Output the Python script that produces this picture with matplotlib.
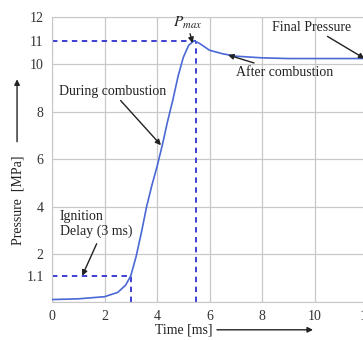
import matplotlib.pyplot as plt
import numpy as np

plt.rcParams['font.family'] = ['Liberation Serif', 'DejaVu Serif']
plt.rcParams['mathtext.fontset'] = 'stix'

# pressure trace
time_ms = [0, 1, 2, 2.5, 2.8, 3.0, 3.2, 3.4, 3.6, 3.8, 4.0, 4.2, 4.4, 4.6, 4.8,
           5.0, 5.2, 5.4, 5.6, 6.0, 6.5, 7.0, 8.0, 9.0, 10.0, 11.0, 12.0]
pressure = [0.1, 0.13, 0.22, 0.4, 0.7, 1.1, 1.9, 2.9, 4.0, 4.9, 5.7, 6.6, 7.6, 8.5, 9.5,
            10.3, 10.8, 11.0, 10.9, 10.6, 10.45, 10.35, 10.28, 10.25, 10.25, 10.25, 10.25]

ign_time, ign_p = 3.0, 1.1
pmax_time, pmax = 5.5, 11.0

xticks = [0, 2, 4, 6, 8, 10, 12]
yticks = [1.1, 2, 4, 6, 8, 10, 11, 12]
ytick_labels = ['1.1', '2', '4', '6', '8', '10', '11', '12']

fig = plt.figure(figsize=(3.63, 3.40), dpi=100)
ax = fig.add_axes([0.1433, 0.112, 0.868, 0.838])

ax.set_xlim(0, 12)
ax.set_ylim(0, 12)
ax.set_xticks(xticks)
ax.set_yticks(yticks)
ax.set_yticklabels(ytick_labels)
ax.tick_params(length=0, labelsize=10, pad=6, colors='#333333')

# grid only at the even values
for x in xticks:
    ax.axvline(x, color='#c8c8c8', lw=0.9, zorder=0)
for y in [0, 2, 4, 6, 8, 10, 12]:
    ax.axhline(y, color='#c8c8c8', lw=0.9, zorder=0)
for s in ax.spines.values():
    s.set_color('#c8c8c8')

ax.plot(time_ms, pressure, color='#4a68d6', lw=1.2, zorder=3)

dash = dict(color='#3030d0', lw=1.3, ls=(0, (3, 2.5)), zorder=2)
ax.plot([0, ign_time], [ign_p, ign_p], **dash)
ax.plot([ign_time, ign_time], [0, ign_p], **dash)
ax.plot([0, pmax_time], [pmax, pmax], **dash)
ax.plot([pmax_time, pmax_time], [0, pmax], **dash)

arr = dict(arrowstyle='-|>', color='#222222', lw=1.0, mutation_scale=8, shrinkA=0, shrinkB=0)
tk = dict(fontsize=10, color='#222222')

ax.annotate('$P_{max}$', xy=(5.35, 10.9), xytext=(4.6, 11.75), arrowprops=arr,
            fontsize=11, color='#222222', ha='left', va='center')
ax.annotate('During combustion', xy=(4.15, 6.6), xytext=(0.25, 8.6), arrowprops=arr,
            ha='left', va='bottom', **tk)
ax.annotate('After combustion', xy=(6.7, 10.4), xytext=(7.0, 9.4), arrowprops=arr,
            ha='left', va='bottom', **tk)
ax.annotate('Final Pressure', xy=(11.9, 10.25), xytext=(9.9, 11.3), arrowprops=arr,
            ha='center', va='bottom', **tk)
ax.text(0.3, 2.7, 'Ignition\nDelay (3 ms)', ha='left', va='bottom', linespacing=1.1, **tk)
ax.annotate('', xy=(1.15, 1.1), xytext=(1.7, 2.45), arrowprops=arr)

# axis titles with long arrows
fig.text(0.05, 0.41, 'Pressure  [MPa]', rotation=90, ha='center', va='center', **tk)
fig.patches.append(plt.matplotlib.patches.FancyArrowPatch(
    (0.047, 0.575), (0.047, 0.775), transform=fig.transFigure, arrowstyle='-|>',
    mutation_scale=8, color='#222222', lw=1.0))
fig.text(0.505, 0.03, 'Time [ms]', ha='center', va='center', **tk)
fig.patches.append(plt.matplotlib.patches.FancyArrowPatch(
    (0.59, 0.03), (0.87, 0.03), transform=fig.transFigure, arrowstyle='-|>',
    mutation_scale=8, color='#222222', lw=1.0))

fig.savefig('out.png', dpi=100)
